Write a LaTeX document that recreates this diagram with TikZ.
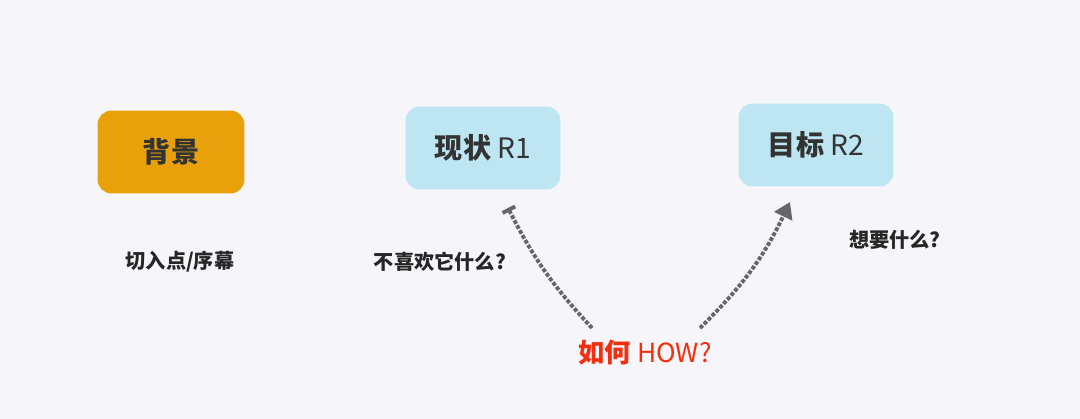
\documentclass[tikz,border=0pt]{standalone}
\usepackage{fontspec}
\setmainfont{Noto Sans CJK SC}
\usetikzlibrary{arrows.meta}
\definecolor{bgcol}{HTML}{F5F5FA}
\definecolor{orangebox}{HTML}{E8A10A}
\definecolor{bluebox}{HTML}{BDE6F2}
\definecolor{howred}{HTML}{F2300F}
\definecolor{txt}{HTML}{333333}
\begin{document}
\begin{tikzpicture} [x = 0.02cm, y = -0.02cm, line width = 0.5pt]
        \tikzset{stage/.style = {rounded corners = 8pt, minimum width = 3.1cm, minimum height = 1.66cm, font = \fontsize{16}{18}\selectfont, text = txt},
                 note/.style = {font = \fontsize{11.5}{13}\selectfont\bfseries, text = black!85},
                 hop/.style = {densely dotted, line width = 2.2pt, draw = black!60}}
        \fill [bgcol] (0,0) rectangle (1080,419);
        \useasboundingbox (0,0) rectangle (1080,419);
        
        \node [stage, fill=orangebox, minimum width = 2.94cm] (bg) at (171,152) {\bfseries 背景};
        \node [stage, fill=bluebox] (r1) at (483,148) {\bfseries 现状\ \mdseries R1};
        \node [stage, fill=bluebox] (r2) at (816,145) {\bfseries 目标\ \mdseries R2};
        
        \node [note] (cut) at (180,262) {切入点/序幕};
        \node [note] (dislike) at (440,262) {不喜欢它什么?};
        \node [note] (want) at (895,240) {想要什么?};
        \node [font = \fontsize{15}{17}\selectfont, text = howred] (how) at (645,352) {\bfseries 如何 \mdseries HOW?};
        
        \coordinate (l1) at (592,328);
        \coordinate (l2) at (508,208);
        \coordinate (h1) at (700,328);
        \coordinate (h2) at (790,202);
        
        \draw [hop, -{Bar[width=8pt,line width=2.2pt]}] (l1) to [bend left = 8] (l2);
        \draw [hop, -{Triangle[width=11pt,length=9pt]}] (h1) to [bend right = 10] (h2);
        
    \end{tikzpicture}
\end{document}
